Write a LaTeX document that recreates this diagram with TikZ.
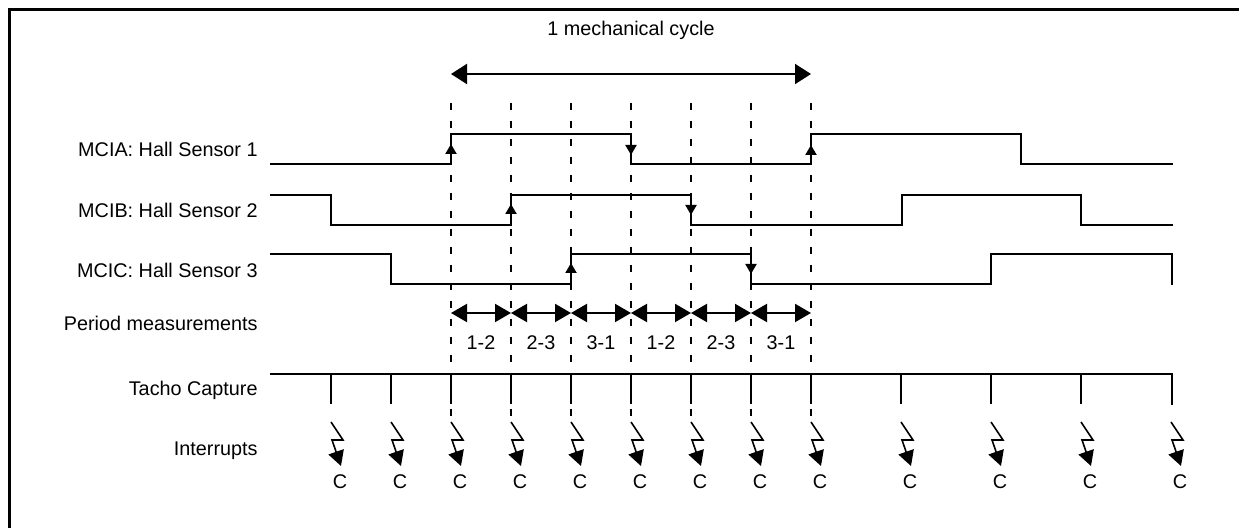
\documentclass[tikz,border=0pt]{standalone}
\usepackage{fontspec}
\setmainfont{Liberation Sans}
\usetikzlibrary{arrows.meta}
\begin{document}
\begin{tikzpicture}[x=0.5pt,y=-0.5pt,
  wave/.style={line width=1pt, line join=miter, line cap=rect},
  gridline/.style={line width=1pt, dash pattern=on 3.5pt off 5.5pt},
  frameline/.style={line width=1.2pt},
  lbl/.style={anchor=east, inner sep=0pt, font=\fontsize{9.9}{12}\selectfont},
  txt/.style={inner sep=0pt, font=\fontsize{9.9}{12}\selectfont},
  edgearr/.style={line width=1pt, -{Triangle[length=5pt,width=5.5pt]}},
  cyclearr/.style={line width=1pt, {Triangle[length=8pt,width=10pt]}-{Triangle[length=8pt,width=10pt]}},
  periodarr/.style={line width=1pt, {Triangle[length=8pt,width=9pt]}-{Triangle[length=8pt,width=9pt]}},
  bolt/.style={line width=0.8pt, line join=miter, -{Triangle[length=7.5pt,width=8pt]}},
  tick/.style={line width=1pt}
]
\useasboundingbox (0,0) rectangle (1239,528);
\fill[white] (0,0) rectangle (1239,528);

% frame
\draw[frameline] (9.5,528) -- (9.5,9.5) -- (1239,9.5);

% cycle label and arrow
\node[txt] (cycle) at (631,30) {1 mechanical cycle};
\coordinate (cycA) at (451,74);
\coordinate (cycB) at (811,74);
\draw[cyclearr] (cycA) -- (cycB);

% row labels
\node[lbl] (l1) at (258,149) {MCIA: Hall Sensor 1};
\node[lbl] (l2) at (258,210) {MCIB: Hall Sensor 2};
\node[lbl] (l3) at (258,270) {MCIC: Hall Sensor 3};
\node[lbl] (l4) at (258,323) {Period measurements};
\node[lbl] (l5) at (258,390) {Tacho Capture};
\node[lbl] (l6) at (258,451) {Interrupts};

% dashed columns
\foreach \k in {0,...,6}{
  \coordinate (ct\k) at ({451+60*\k},103);
  \coordinate (cb\k) at ({451+60*\k},420);
  \draw[gridline] (ct\k) -- (cb\k);
}

% Hall sensor waveforms
\draw[wave] (271,164) -- (451,164) -- (451,134) -- (631,134) -- (631,164) -- (811,164) -- (811,134) -- (1021,134) -- (1021,164) -- (1172,164);
\draw[wave] (271,195) -- (331,195) -- (331,225) -- (511,225) -- (511,195) -- (691,195) -- (691,225) -- (902,225) -- (902,195) -- (1081,195) -- (1081,225) -- (1172,225);
\draw[wave] (271,254) -- (391,254) -- (391,284) -- (571,284) -- (571,254) -- (751,254) -- (751,284) -- (991,284) -- (991,254) -- (1172,254) -- (1172,284);

% edge arrows
\draw[edgearr] (451,160) -- (451,144);
\draw[edgearr] (631,138) -- (631,155);
\draw[edgearr] (811,160) -- (811,145);
\draw[edgearr] (511,221) -- (511,204);
\draw[edgearr] (691,199) -- (691,215);
\draw[edgearr] (571,280) -- (571,263);
\draw[edgearr] (751,258) -- (751,274);

% period measurements
\foreach \k/\t in {0/1-2,1/2-3,2/3-1,3/1-2,4/2-3,5/3-1}{
  \coordinate (pa\k) at ({451+60*\k},313);
  \coordinate (pb\k) at ({511+60*\k},313);
  \draw[periodarr] (pa\k) -- (pb\k);
  \node[txt] (pl\k) at ({481+60*\k},343) {\t};
}

% tacho capture
\coordinate (tA) at (271,374);
\coordinate (tB) at (1172,374);
\coordinate (tC) at (1172,404);
\draw[wave] (tA) -- (tB) -- (tC);
\foreach \x [count=\i] in {331,391,451,511,571,631,691,751,811,901,991,1081}{
  \draw[tick] (\x,374) -- (\x,404);
}

% interrupts
\foreach \x [count=\i] in {331,391,451,511,571,631,691,751,811,901,991,1081,1171}{
  \draw[bolt] (\x,422) -- ({\x+12},440) -- ({\x+1},440) -- ({\x+10},466);
  \node[txt] (c\i) at ({\x+9},482) {C};
}
\end{tikzpicture}
\end{document}
